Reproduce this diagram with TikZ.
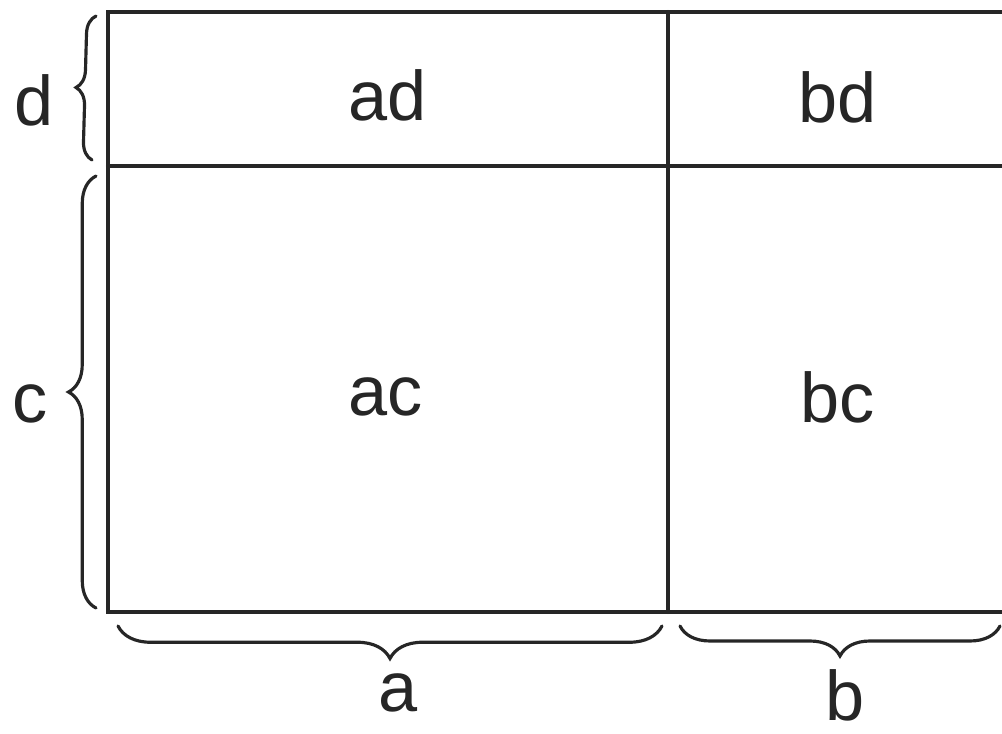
\documentclass[tikz,border=0pt]{standalone}
\usepackage{fontspec}
\setmainfont{Liberation Sans}
\usetikzlibrary{positioning, decorations.pathreplacing}

\begin{document}
\begin{tikzpicture}[
  x=0.02cm, y=-0.02cm,
  edge/.style={draw=black!85, line width=2.3pt, line cap=round},
  bracket/.style={draw=black!85, line width=1.8pt, line cap=round,
                  decorate, decoration={brace, amplitude=#1}},
  bracket/.default=0.55cm,
  lab/.style={font=\fontsize{40}{44}\selectfont, text=black!85, inner sep=0pt},
]
\useasboundingbox (0,0) rectangle (1002,734);

% ---- Grid corners --------------------------------------------------------
\coordinate (tl) at (108,12);
\coordinate (tm) at (668,12);
\coordinate (tr) at (1002,12);
\coordinate (ml) at (108,166);
\coordinate (mr) at (1002,166);
\coordinate (bl) at (108,612);
\coordinate (bm) at (668,612);
\coordinate (br) at (1002,612);

% ---- Rectangle, right side runs off the page -----------------------------
\draw[edge] (tr) -- (tl) -- (bl) -- (br);
\draw[edge] (ml) -- (mr);
\draw[edge] (tm) -- (bm);

% ---- Cell products -------------------------------------------------------
\node[lab] (ad) at (388,95)  {ad};
\node[lab] (bd) at (838,97)  {bd};
\node[lab] (ac) at (386,397) {ac};
\node[lab] (bc) at (838,397) {bc};

% ---- Braces for the side lengths ----------------------------------------
\coordinate (d0) at (92,160);  \coordinate (d1) at (96,16);
\coordinate (c0) at (96,608);  \coordinate (c1) at (96,176);
\coordinate (a0) at (662,626); \coordinate (a1) at (118,626);
\coordinate (b0) at (1000,626); \coordinate (b1) at (680,626);
\draw[bracket=0.36cm] (d0) -- (d1);
\draw[bracket] (c0) -- (c1);
\draw[bracket=0.65cm] (a0) -- (a1);
\draw[bracket=0.6cm] (b0) -- (b1);

\node[lab] (d) at (34,100)  {d};
\node[lab] (c) at (30,404)  {c};
\node[lab] (a) at (398,693) {a};
\node[lab] (b) at (845,695) {b};

\end{tikzpicture}
\end{document}
